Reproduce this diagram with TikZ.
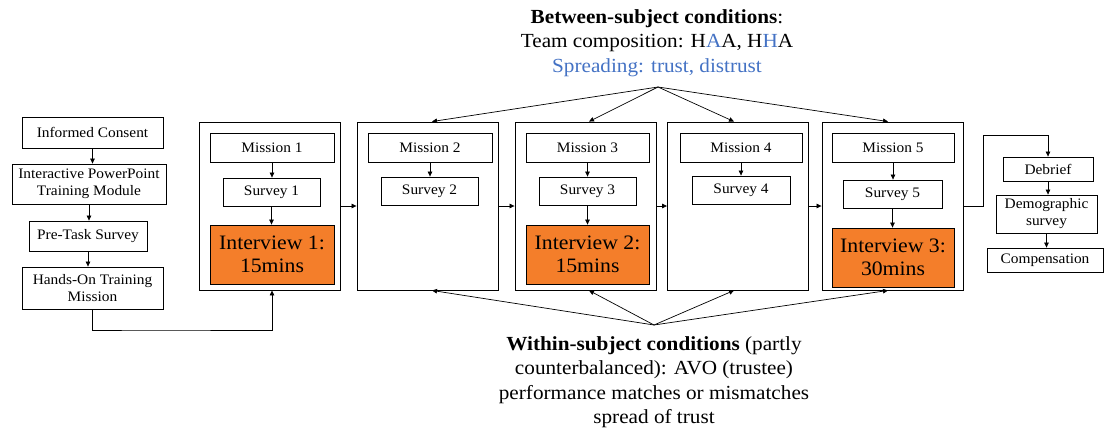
\documentclass[tikz,border=0pt]{standalone}
\usepackage{fontspec}
\setmainfont{Liberation Serif}[FakeStretch=1.06]
\usetikzlibrary{arrows.meta}
\definecolor{accentblue}{RGB}{68,114,196}
\definecolor{ivorange}{RGB}{244,126,42}
\begin{document}
\begin{tikzpicture}[x=1pt,y=-1pt,
  bx/.style={draw, line width=0.8pt, inner sep=0pt, align=center,
             font=\fontsize{14.5}{17}\selectfont},
  blk/.style={draw, line width=0.9pt, inner sep=0pt, minimum width=141pt, minimum height=168pt},
  ivw/.style={bx, fill=ivorange, font=\fontsize{20.5}{23}\selectfont},
  arr/.style={line width=0.7pt, -{Triangle[length=5pt,width=4.5pt]}},
  cond/.style={align=center, font=\fontsize{20}{24.5}\selectfont}]
\useasboundingbox (0,0) rectangle (1105,431);

% pre-mission sequence
\node[bx, minimum width=141pt, minimum height=31pt] (ic)  at (92.5,132.5) {Informed Consent};
\node[bx, minimum width=154pt, minimum height=40pt] (ipp) at (89,184) {Interactive PowerPoint\\Training Module};
\node[bx, minimum width=118pt, minimum height=30pt] (pts) at (88,236) {Pre-Task Survey};
\node[bx, minimum width=141pt, minimum height=42pt] (hot) at (92.5,288) {Hands-On Training\\Mission};

% mission blocks
\node[blk] (b1) at (270,206) {};
\node[blk] (b2) at (427.5,206) {};
\node[blk] (b3) at (585.5,206) {};
\node[blk] (b4) at (738,206) {};
\node[blk] (b5) at (892.5,206) {};

\node[bx, minimum width=124pt, minimum height=29pt] (m1) at (272,147.5) {Mission 1};
\node[bx, minimum width=97pt,  minimum height=28pt] (s1) at (271.5,192) {Survey 1};
\node[ivw, minimum width=124pt, minimum height=59pt] (i1) at (272,254.5) {Interview 1:\\15mins};

\node[bx, minimum width=124pt, minimum height=29pt] (m2) at (430,147.5) {Mission 2};
\node[bx, minimum width=97pt,  minimum height=28pt] (s2) at (429.5,191) {Survey 2};

\node[bx, minimum width=123pt, minimum height=29pt] (m3) at (587.5,147.5) {Mission 3};
\node[bx, minimum width=97pt,  minimum height=28pt] (s3) at (587.5,191) {Survey 3};
\node[ivw, minimum width=123pt, minimum height=59pt] (i2) at (587.5,254.5) {Interview 2:\\15mins};

\node[bx, minimum width=122pt, minimum height=29pt] (m4) at (741,147.5) {Mission 4};
\node[bx, minimum width=98pt,  minimum height=28pt] (s4) at (741,190) {Survey 4};

\node[bx, minimum width=122pt, minimum height=29pt] (m5) at (893,147.5) {Mission 5};
\node[bx, minimum width=99pt,  minimum height=28pt] (s5) at (892.5,194) {Survey 5};
\node[ivw, minimum width=122pt, minimum height=59pt] (i3) at (893,257.5) {Interview 3:\\30mins};

% post-mission sequence
\node[bx, minimum width=90pt,  minimum height=24pt] (deb)  at (1048,169) {Debrief};
\node[bx, minimum width=101pt, minimum height=38pt] (demo) at (1046.5,214) {Demographic\\survey};
\node[bx, minimum width=116pt, minimum height=24pt] (comp) at (1045,260) {Compensation};

% condition labels
\node[cond] (bsc) at (657,43) {\textbf{Between-subject conditions}:\\
  Team composition: H\textcolor{accentblue}{A}A, H\textcolor{accentblue}{H}A\\
  \textcolor{accentblue}{Spreading: trust, distrust}};
\node[cond] (wsc) at (654,382) {\textbf{Within-subject conditions} (partly\\
  counterbalanced): AVO (trustee)\\
  performance matches or mismatches\\
  spread of trust};

\coordinate (topc) at (658,87);
\coordinate (botc) at (654,325);
\coordinate (t1) at (983,135);
\coordinate (t2) at (150,330);

% vertical flow arrows
\foreach \a/\b in {ic/ipp, ipp/pts, pts/hot, m1/s1, s1/i1, m2/s2, m3/s3, s3/i2, m4/s4, m5/s5, s5/i3, deb/demo, demo/comp}
  \draw[arr] (\a.south) -- (\a.south |- \b.north);

% block-to-block arrows
\foreach \a/\b in {b1/b2, b2/b3, b3/b4, b4/b5}
  \draw[arr] (\a.east) -- (\b.west);

\draw[arr] (hot.south) |- (t2) -| (i1.south |- b1.south);
\draw[arr] (b5.east) -| (t1) -| (deb.north);

% condition fan-out arrows
\draw[arr] (topc) -- ([xshift=4.5pt]b2.north);
\draw[arr] (topc) -- ([xshift=3.5pt]b3.north);
\draw[arr] (topc) -- ([xshift=-4pt]b4.north);
\draw[arr] (topc) -- ([xshift=-4.5pt]b5.north);
\draw[arr] (botc) -- ([xshift=4.5pt]b2.south);
\draw[arr] (botc) -- ([xshift=3.5pt]b3.south);
\draw[arr] (botc) -- ([xshift=-4pt]b4.south);
\draw[arr] (botc) -- ([xshift=-4.5pt]b5.south);
\end{tikzpicture}
\end{document}
